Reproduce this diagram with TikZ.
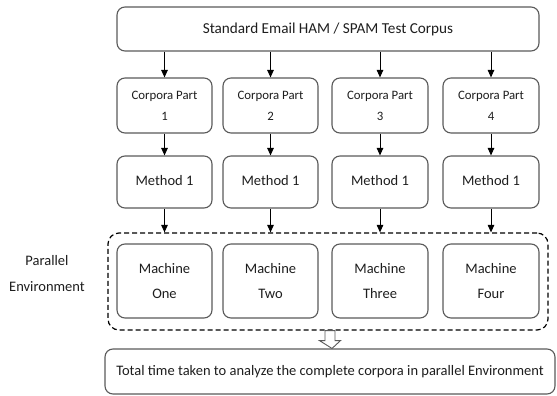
\documentclass[tikz,border=0pt]{standalone}
\usepackage{fontspec}
\setmainfont{Carlito}
\usetikzlibrary{arrows.meta,fit,calc}
\definecolor{bordergray}{HTML}{5A5A5A}
\definecolor{textgray}{HTML}{1E1E1E}
\tikzset{
  box/.style={draw=bordergray, line width=1.1pt, rounded corners=8pt, fill=white,
    align=center, inner sep=0pt, text=textgray, font=\fontsize{14.5}{25}\selectfont},
  corpbox/.style={box, font=\fontsize{12.8}{21}\selectfont},
  flow/.style={-{Triangle[length=7.5pt,width=6.5pt]}, line width=1pt, black},
  envbox/.style={draw=black, line width=1.2pt, dash pattern=on 5pt off 3pt, rounded corners=11pt, inner sep=0pt},
  hollow/.style={draw=bordergray, line width=0.9pt, fill=white},
  lbl/.style={align=center, text=textgray, font=\fontsize{14.5}{26}\selectfont}
}
\begin{document}
\begin{tikzpicture}[x=1pt,y=-1pt]
\useasboundingbox (0,0) rectangle (557,396);
% top
\node[box, minimum width=422pt, minimum height=44pt, font=\fontsize{15.2}{18}\selectfont] (top) at (328,29) {Standard Email HAM / SPAM Test Corpus};
% corpora
\node[corpbox, minimum width=95pt, minimum height=55pt] (c1) at (164.5,105.5) {Corpora Part\\1};
\node[corpbox, minimum width=95pt, minimum height=55pt] (c2) at (270.5,105.5) {Corpora Part\\2};
\node[corpbox, minimum width=96pt, minimum height=55pt] (c3) at (380,105.5) {Corpora Part\\3};
\node[corpbox, minimum width=96pt, minimum height=55pt] (c4) at (491,105.5) {Corpora Part\\4};
% methods
\node[box, minimum width=95pt, minimum height=52pt] (m1) at (164.5,182) {\raisebox{4pt}{Method 1}};
\node[box, minimum width=95pt, minimum height=52pt] (m2) at (270.5,182) {\raisebox{4pt}{Method 1}};
\node[box, minimum width=96pt, minimum height=52pt] (m3) at (380,182) {\raisebox{4pt}{Method 1}};
\node[box, minimum width=96pt, minimum height=52pt] (m4) at (491,182) {\raisebox{4pt}{Method 1}};
% machines
\node[box, minimum width=95pt, minimum height=74pt] (k1) at (164.5,281) {Machine\\One};
\node[box, minimum width=95pt, minimum height=74pt] (k2) at (270.5,281) {Machine\\Two};
\node[box, minimum width=96pt, minimum height=74pt] (k3) at (380,281) {Machine\\Three};
\node[box, minimum width=96pt, minimum height=74pt] (k4) at (491,281) {Machine\\Four};
% environment
\node[envbox, fit={(108,233) (548,330)}] (env) {};
\node[lbl] (plbl) at (47,274) {Parallel\\Environment};
% bottom
\node[box, minimum width=450pt, minimum height=45pt] (res) at (330,371.5) {\raisebox{3pt}{Total time taken to analyze the complete corpora in parallel Environment}};
% arrows
\foreach \i in {1,2,3,4}{
  \draw[flow] (top.south -| c\i.north) -- (c\i.north);
  \draw[flow] (c\i.south) -- (m\i.north);
  \draw[flow] (m\i.south) -- (m\i.south |- env.north);
}
% hollow arrow
\coordinate (ha) at ($(env.south)+(2,0)$);
\draw[hollow] ($(ha)+(-5,0)$) -- ($(ha)+(5,0)$) -- ($(ha)+(5,10)$) -- ($(ha)+(10.5,10)$) -- ($(res.north)+(2,0)$) -- ($(ha)+(-10.5,10)$) -- ($(ha)+(-5,10)$) -- cycle;
\end{tikzpicture}
\end{document}
